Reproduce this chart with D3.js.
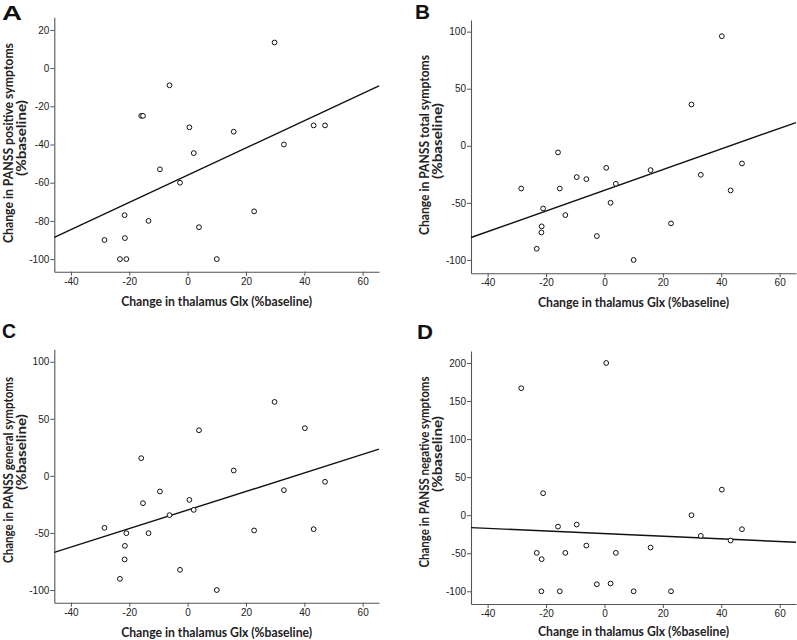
<!DOCTYPE html>
<html>
<head>
<meta charset="utf-8">
<script src="https://cdn.jsdelivr.net/npm/d3@7"></script>
<style>
  html, body { margin: 0; padding: 0; background: #ffffff; }
  svg { display: block; }
  .tick text { font-family: "Liberation Sans Narrow", "Arial Narrow", "Liberation Sans", sans-serif; font-size: 10px; fill: #222; }
  .domain, .tick line { stroke: #555; }
  .title { font-family: Lato, "Open Sans", sans-serif; font-weight: bold; font-size: 14px; fill: #222; }
  .letter { font-family: "Liberation Sans", Arial, sans-serif; font-weight: bold; font-size: 21px; fill: #111; }
</style>
</head>
<body>
<svg id="chart" width="797" height="640"></svg>
<script>
// ---------------- data ----------------
const panelLetters = ["A", "B", "C", "D"];
const xTitle = "Change in thalamus Glx (%baseline)";
const yTitles = [
  "Change in PANSS positive symptoms",
  "Change in PANSS total symptoms",
  "Change in PANSS general symptoms",
  "Change in PANSS negative symptoms"
];
const yTitleSecond = "(%baseline)";

// change in thalamus Glx, one value per subject
const glx = [-28.5, -23.2, -21.6, -21.5, -21.0, -15.9, -15.3, -13.4, -9.5, -6.2, -2.6,
             0.6, 2.1, 3.9, 10.0, 15.8, 22.8, 29.8, 33.0, 40.2, 43.2, 47.1];

const panssPositive = [-90, -100, -77, -89, -100, -25, -25, -80, -53, -9, -60,
                       -31, -44.5, -83.3, -100, -33.3, -75, 13.4, -40, null, -30, -30];
const panssTotal = [-37.4, -90.2, -75.9, -70.6, -54.9, -5.8, -37.4, -60.7, -27.4, -29.2, -79.1,
                    -19.3, -49.9, -33.3, -100, -21.3, -68.0, 36.2, -25.4, 96.0, -39.1, -15.5];
const panssGeneral = [-45.5, -90.2, -73.2, -61.3, -50.2, 15.5, -23.9, -50.2, -13.7, -34.4, -82.3,
                      -21.0, -29.8, 40.0, -100, 4.7, -47.8, 64.8, -12.5, 41.8, -46.7, -5.2];
const panssNegative = [166.9, -49.5, -100, -57.8, 28.9, -15.0, -100, -49.5, -12.3, -39.9, -90.7,
                       200, -89.8, -49.5, -100, -42.5, -100, 0, -27.2, 33.6, -33.3, -18.4];

// fitted regression lines (intercept, slope) as drawn in the reference
const fitIntercepts = [-56.1, -39.0, -29.9, -24.2];
const fitSlopes = [0.713, 0.905, 0.813, -0.1725];

// axis ranges and tick values
const xDomain = [-45.7, 65.6];
const xTicks = [-40, -20, 0, 20, 40, 60];
const yDomains = [[-106.6, 26.6], [-111.7, 110.2], [-111.1, 110.9], [-116.7, 215.8]];
const yTicksA = [-100, -80, -60, -40, -20, 0, 20];
const yTicksB = [-100, -50, 0, 50, 100];
const yTicksC = [-100, -50, 0, 50, 100];
const yTicksD = [-100, -50, 0, 50, 100, 150, 200];

// ---------------- layout ----------------
const seriesList = [panssPositive, panssTotal, panssGeneral, panssNegative];
const yTickList = [yTicksA, yTicksB, yTicksC, yTicksD];
const layout = [
  { left: 54.3, right: 379, top: 17.3, bottom: 271.7, letterX: 2, letterY: 20, letterW: 20,
    yt1X: 13, yt2X: 26, yt1C: 143, yt2C: 138, xtY: 306 },
  { left: 471, right: 796, top: 20, bottom: 273.3, letterX: 415, letterY: 19, letterW: 15,
    yt1X: 429, yt2X: 442, yt1C: 145, yt2C: 141, xtY: 307 },
  { left: 54.3, right: 379, top: 349.3, bottom: 602.7, letterX: 2, letterY: 338, letterW: 14,
    yt1X: 13, yt2X: 26, yt1C: 470, yt2C: 452, xtY: 637 },
  { left: 471, right: 796, top: 351, bottom: 604, letterX: 417, letterY: 339, letterW: 16,
    yt1X: 429, yt2X: 442, yt1C: 472, yt2C: 454, xtY: 636 }
];

const svg = d3.select("#chart");

layout.forEach((L, i) => {
  const g = svg.append("g");
  const x = d3.scaleLinear().domain(xDomain).range([L.left, L.right]);
  const y = d3.scaleLinear().domain(yDomains[i]).range([L.bottom, L.top]);

  // axes
  g.append("g")
    .attr("transform", `translate(0,${L.bottom})`)
    .call(d3.axisBottom(x).tickValues(xTicks).tickSize(4).tickSizeOuter(0).tickPadding(2).tickFormat(d => String(d)));
  g.append("g")
    .attr("transform", `translate(${L.left},0)`)
    .call(d3.axisLeft(y).tickValues(yTickList[i]).tickSize(4).tickSizeOuter(0).tickPadding(1).tickFormat(d => String(d)));

  g.selectAll(".domain").attr("stroke-width", 1.1);

  // regression line
  const fit = xv => fitIntercepts[i] + fitSlopes[i] * xv;
  g.append("line")
    .attr("x1", x(xDomain[0])).attr("y1", y(fit(xDomain[0])))
    .attr("x2", x(xDomain[1])).attr("y2", y(fit(xDomain[1])))
    .attr("stroke", "#111").attr("stroke-width", 1.4);

  // points
  const pts = glx.map((gv, k) => ({ x: gv, y: seriesList[i][k] })).filter(d => d.y !== null);
  g.selectAll("circle.pt").data(pts).enter().append("circle")
    .attr("class", "pt")
    .attr("cx", d => x(d.x)).attr("cy", d => y(d.y))
    .attr("r", 2.4)
    .attr("fill", "#fff").attr("stroke", "#111").attr("stroke-width", 1);

  // x title
  g.append("text").attr("class", "title")
    .attr("x", (L.left + L.right) / 2).attr("y", L.xtY)
    .attr("text-anchor", "middle")
    .attr("textLength", 191).attr("lengthAdjust", "spacingAndGlyphs")
    .text(xTitle);

  // y titles (two lines)
  const len1 = [200, 180, 186, 191][i];
  g.append("text").attr("class", "title")
    .attr("transform", `translate(${L.yt1X},${L.yt1C}) rotate(-90)`)
    .attr("text-anchor", "middle")
    .attr("textLength", len1).attr("lengthAdjust", "spacingAndGlyphs")
    .text(yTitles[i]);
  g.append("text").attr("class", "title")
    .attr("transform", `translate(${L.yt2X},${L.yt2C}) rotate(-90)`)
    .attr("text-anchor", "middle")
    .attr("textLength", 76).attr("lengthAdjust", "spacingAndGlyphs")
    .text(yTitleSecond);

  // panel letter
  g.append("text").attr("class", "letter")
    .attr("x", L.letterX).attr("y", L.letterY)
    .attr("textLength", L.letterW).attr("lengthAdjust", "spacingAndGlyphs")
    .text(panelLetters[i]);
});
</script>
</body>
</html>
